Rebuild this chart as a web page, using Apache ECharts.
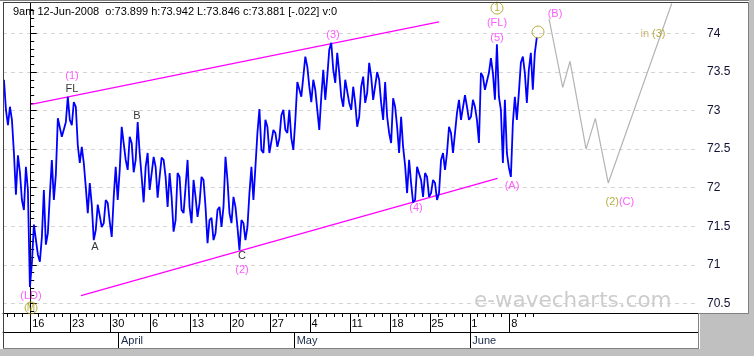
<!DOCTYPE html>
<html><head><meta charset="utf-8">
<script src="https://cdn.jsdelivr.net/npm/echarts@6/dist/echarts.min.js"></script>
<style>html,body{margin:0;padding:0;background:#fff;}#c{width:754px;height:356px;}</style>
</head><body><div id="c"></div>
<script>
// ---- data (time in trading days from week of 16-Mar-2008; price values) ----
const barStartDay = -3.35;
const barStepDay = 0.5;
const barHigh = [73.40,73.05,72.88,72.42,72.20,72.27,71.97,71.52,71.52,71.36,
  71.97,71.91,72.36,72.90,72.90,72.85,73.18,73.11,73.05,72.53,
  72.32,72.06,71.78,71.78,71.80,71.84,71.80,71.88,72.27,72.79,
  72.79,72.66,72.58,72.85,72.45,72.27,72.45,72.40,72.27,72.39,
  72.36,72.19,71.88,72.19,72.14,72.01,72.36,72.10,71.88,72.14,
  72.10,71.58,71.61,71.71,71.75,72.40,72.10,71.88,71.75,71.58,
  71.54,71.93,72.27,72.71,73.02,72.88,72.79,72.75,72.71,72.94,
  73.01,73.01,72.64,73.37,73.37,73.70,73.57,73.40,73.27,73.18,
  73.53,73.79,73.88,73.75,73.49,73.40,73.40,73.31,73.10,73.31,
  73.44,73.62,73.44,73.50,73.40,73.37,72.92,73.16,73.05,72.92,
  72.53,72.36,72.06,72.27,72.27,72.19,72.14,72.10,72.06,72.36,
  72.45,72.79,72.71,72.97,73.14,73.20,73.05,73.14,73.05,73.49,
  73.44,73.49,73.68,73.86,73.18,73.14,72.45,72.84,73.18,73.62,
  73.70,73.53,73.75,73.95];
const barLow = [73.01,72.81,72.45,71.91,71.84,71.71,70.71,71.02,71.13,71.04,
  71.26,71.41,71.84,72.17,72.66,72.68,72.88,72.81,72.55,72.32,
  72.01,71.67,71.32,71.45,71.49,71.54,71.56,71.36,71.84,72.23,
  72.36,72.23,72.20,72.36,72.14,71.81,71.97,71.97,71.87,72.14,
  72.14,71.75,71.43,71.58,71.71,71.67,71.75,71.54,71.62,71.80,
  71.75,71.28,71.32,71.41,71.49,71.75,71.67,71.54,71.49,71.19,
  71.32,71.49,71.84,72.27,72.49,72.45,72.45,72.45,72.53,72.64,
  72.75,72.71,72.49,72.88,73.18,73.18,73.31,73.11,73.01,72.75,
  73.14,73.44,73.53,73.36,73.18,73.05,73.10,73.01,72.79,72.92,
  73.10,73.23,73.14,73.14,73.10,72.88,72.71,72.58,72.79,72.45,
  72.29,71.93,71.81,71.84,72.10,71.88,71.88,71.93,71.84,71.93,
  72.23,72.45,72.45,72.71,72.88,72.88,72.88,72.92,72.88,72.58,
  73.27,73.27,73.49,73.14,73.01,72.32,72.26,72.14,72.88,73.23,
  73.49,73.10,73.27,73.75];
const upperChannelDays = [0.04, 51.15];
const upperChannelValues = [73.08, 74.15];
const lowerChannelDays = [6.30, 58.47];
const lowerChannelValues = [70.60, 72.12];
const projectionDays = [64.93, 66.64, 67.56, 69.57, 70.73, 72.35, 80.30];
const projectionValues = [74.19, 73.30, 73.64, 72.50, 72.90, 72.06, 74.39];
const weekStartDays = [0,5,10,15,20,25,30,35,40,45,50,55,60];
const weekLabels = ['16','23','30','6','13','20','27','4','11','18','25','1','8'];
const monthStartDays = [11,33,55];
const monthLabels = ['April','May','June'];
const yTickValues = [70.5,71,71.5,72,72.5,73,73.5,74];
const yTickLabels = ['70.5','71','71.5','72','72.5','73','73.5','74'];
const waveLabels = [
  {t:5.17, v:73.45, text:'(1)', kind:'pink'},
  {t:5.17, v:73.28, text:'FL', kind:'black'},
  {t:13.32, v:72.93, text:'B', kind:'black'},
  {t:8.05, v:71.23, text:'A', kind:'black'},
  {t:0.04, v:70.60, text:'(LD)', kind:'pink'},
  {t:26.47, v:71.11, text:'C', kind:'black'},
  {t:26.47, v:70.93, text:'(2)', kind:'pink'},
  {t:37.87, v:73.98, text:'(3)', kind:'pink'},
  {t:48.27, v:71.74, text:'(4)', kind:'pink'},
  {t:58.41, v:74.14, text:'(FL)', kind:'pink'},
  {t:58.41, v:73.94, text:'(5)', kind:'pink'},
  {t:60.29, v:72.02, text:'(A)', kind:'pink'},
  {t:65.68, v:74.25, text:'(B)', kind:'pink'},
  {t:77.95, v:74.00, text:'in (3)', kind:'olivePair'},
  {t:73.8, v:71.81, text:'(2)(C)', kind:'mixedPair'}
];
const circledLabels = [
  {t:0.04, v:70.44, text:'M'},
  {t:58.41, v:74.33, text:'1'},
  {t:63.55, v:74.02, text:''}
];

// ---- build ----
const FONT = '"Liberation Sans", Arial, sans-serif';
const PINK = '#ff33ff', OLIVE = '#a89a10', TAN = '#c0a850';
const priceData = [];
for (let k = 0; k < barHigh.length; k++) {
  const t = barStartDay + k * barStepDay;
  const first = k % 2 === 0 ? barHigh[k] : barLow[k];
  const second = k % 2 === 0 ? barLow[k] : barHigh[k];
  priceData.push([t, first], [t + barStepDay / 2, second]);
}
const dayTicks = [];
for (let d = -3; d <= 63; d++) dayTicks.push(d);
const yMinorTicks = [];
for (let i = 704; i <= 743; i++) yMinorTicks.push(i / 10);

const X_MIN = -3.47, X_MAX = 83.59, Y_MIN = 70.374, Y_MAX = 74.396;

function labelItem(l) {
  let formatter = l.text, color = '#000', rich;
  if (l.kind === 'pink') color = PINK;
  if (l.kind === 'olivePair') { formatter = '{a|in }{b|(3)}'; rich = {a:{color:TAN, fontSize:11, fontFamily:FONT}, b:{color:OLIVE, fontSize:11, fontFamily:FONT}}; }
  if (l.kind === 'mixedPair') { formatter = '{a|(2)}{b|(C)}'; rich = {a:{color:OLIVE, fontSize:11, fontFamily:FONT}, b:{color:PINK, fontSize:11, fontFamily:FONT}}; }
  return {value:[l.t, l.v], label:{show:true, position:'inside', formatter:formatter, color:color, fontSize:11, fontFamily:FONT, rich:rich}};
}

const xBase = {type:'value', min:X_MIN, max:X_MAX, gridIndex:0, splitLine:{show:false}};
const option = {
  animation:false,
  backgroundColor:'#ffffff',
  grid:{left:3, top:3, width:695, height:310, show:false},
  xAxis:[
    Object.assign({}, xBase, {position:'bottom', axisLine:{show:true, lineStyle:{color:'#000', width:1}},
      axisTick:{show:true, customValues:dayTicks, length:4, lineStyle:{color:'#000'}}, axisLabel:{show:false}}),
    Object.assign({}, xBase, {position:'bottom', axisLine:{show:false},
      axisTick:{show:true, customValues:weekStartDays, length:19.5, lineStyle:{color:'#000'}},
      axisLabel:{show:true, customValues:weekStartDays, align:'left', padding:[0,0,0,1.5], margin:5.5, fontSize:11, fontFamily:FONT, color:'#000',
        formatter:function(v){ const i = weekStartDays.indexOf(Math.round(v)); return i>=0 ? weekLabels[i] : ''; }}}),
    Object.assign({}, xBase, {position:'bottom', offset:19.5, axisLine:{show:true, lineStyle:{color:'#000', width:1}},
      axisTick:{show:true, customValues:monthStartDays, length:16.5, lineStyle:{color:'#000'}},
      axisLabel:{show:true, customValues:monthStartDays, align:'left', padding:[0,0,0,2.5], margin:2.5, fontSize:11, fontFamily:FONT, color:'#1a2a4a',
        formatter:function(v){ const i = monthStartDays.indexOf(Math.round(v)); return i>=0 ? monthLabels[i] : ''; }}})
  ],
  yAxis:[
    {type:'value', position:'right', min:Y_MIN, max:Y_MAX, gridIndex:0,
      axisLine:{show:true, lineStyle:{color:'#000'}},
      axisTick:{show:true, customValues:yTickValues, length:6, lineStyle:{color:'#000'}},
      axisLabel:{show:true, customValues:yTickValues, margin:9, fontSize:12, fontFamily:FONT, color:'#101030',
        formatter:function(v){ const i = yTickValues.findIndex(x=>Math.abs(x-v)<1e-6); return i>=0 ? yTickLabels[i] : ''; }},
      splitLine:{show:true, lineStyle:{color:'#d4d4d4', type:[4,4], width:1}}},
    {type:'value', position:'right', min:Y_MIN, max:Y_MAX, gridIndex:0,
      axisLine:{show:false}, axisTick:{show:true, customValues:yMinorTicks, length:3.5, lineStyle:{color:'#000'}},
      axisLabel:{show:false}, splitLine:{show:false}}
  ],
  graphic:[
    {type:'rect', z:-5, shape:{x:749, y:0, width:5, height:356}, style:{fill:'#c0c0c0'}},
    {type:'rect', z:-5, shape:{x:0, y:349, width:754, height:7}, style:{fill:'#c0c0c0'}},
    {type:'rect', z:-5, shape:{x:700, y:313, width:54, height:43}, style:{fill:'#c0c0c0'}},
    {type:'line', z:10, shape:{x1:0, y1:0.5, x2:749, y2:0.5}, style:{stroke:'#808080', lineWidth:1}},
    {type:'line', z:10, shape:{x1:3.5, y1:2, x2:3.5, y2:349}, style:{stroke:'#404040', lineWidth:1}},
    {type:'line', z:10, shape:{x1:3, y1:2.5, x2:749, y2:2.5}, style:{stroke:'#404040', lineWidth:1}},
    {type:'line', z:10, shape:{x1:748.5, y1:2, x2:748.5, y2:313}, style:{stroke:'#808080', lineWidth:1}},
    {type:'line', z:10, shape:{x1:698, y1:313.5, x2:749, y2:313.5}, style:{stroke:'#808080', lineWidth:1}},
    {type:'line', z:10, shape:{x1:3, y1:348.5, x2:699, y2:348.5}, style:{stroke:'#808080', lineWidth:1}},
    {type:'line', z:10, shape:{x1:698.5, y1:313, x2:698.5, y2:349}, style:{stroke:'#808080', lineWidth:1}},
    {type:'text', z:10, x:13, y:11.5, style:{text:'9am 12-Jun-2008  o:73.899 h:73.942 L:73.846 c:73.881 [-.022] v:0', font:'11px ' + FONT, fill:'#000', verticalAlign:'middle'}},
    {type:'text', z:1, x:474, y:301, style:{text:'e-wavecharts.com', font:'21.5px "DejaVu Sans", sans-serif', fill:'#cdcdcd', verticalAlign:'middle'}}
  ],
  series:[
    {type:'line', name:'upper', data:upperChannelDays.map((d,i)=>[d, upperChannelValues[i]]), showSymbol:false, symbol:'none', lineStyle:{color:'#ff00ff', width:1.2}, z:3, silent:true},
    {type:'line', name:'lower', data:lowerChannelDays.map((d,i)=>[d, lowerChannelValues[i]]), showSymbol:false, symbol:'none', lineStyle:{color:'#ff00ff', width:1.2}, z:3, silent:true},
    {type:'line', name:'projection', data:projectionDays.map((d,i)=>[d, projectionValues[i]]), showSymbol:false, symbol:'none', lineStyle:{color:'#b4b4b4', width:1.2}, z:3, silent:true},
    {type:'line', name:'price', data:priceData, showSymbol:false, symbol:'none', sampling:null, lineStyle:{color:'#0000ff', width:1.8, join:'bevel'}, z:4, silent:true},
    {type:'scatter', name:'labels', data:waveLabels.map(labelItem), symbolSize:1, itemStyle:{color:'rgba(0,0,0,0)'}, clip:false, z:6, silent:true},
    {type:'scatter', name:'circled', data:circledLabels.map(c=>({value:[c.t,c.v], label:{show:true, position:'inside', formatter:c.text, color:OLIVE, fontSize:10, fontFamily:FONT}})),
      symbol:'circle', symbolSize:12, itemStyle:{color:'rgba(0,0,0,0)', borderColor:OLIVE, borderWidth:1}, clip:false, z:6, silent:true}
  ]
};
const chart = echarts.init(document.getElementById('c'), null, {renderer:'canvas', width:754, height:356});
chart.setOption(option);
</script></body></html>
